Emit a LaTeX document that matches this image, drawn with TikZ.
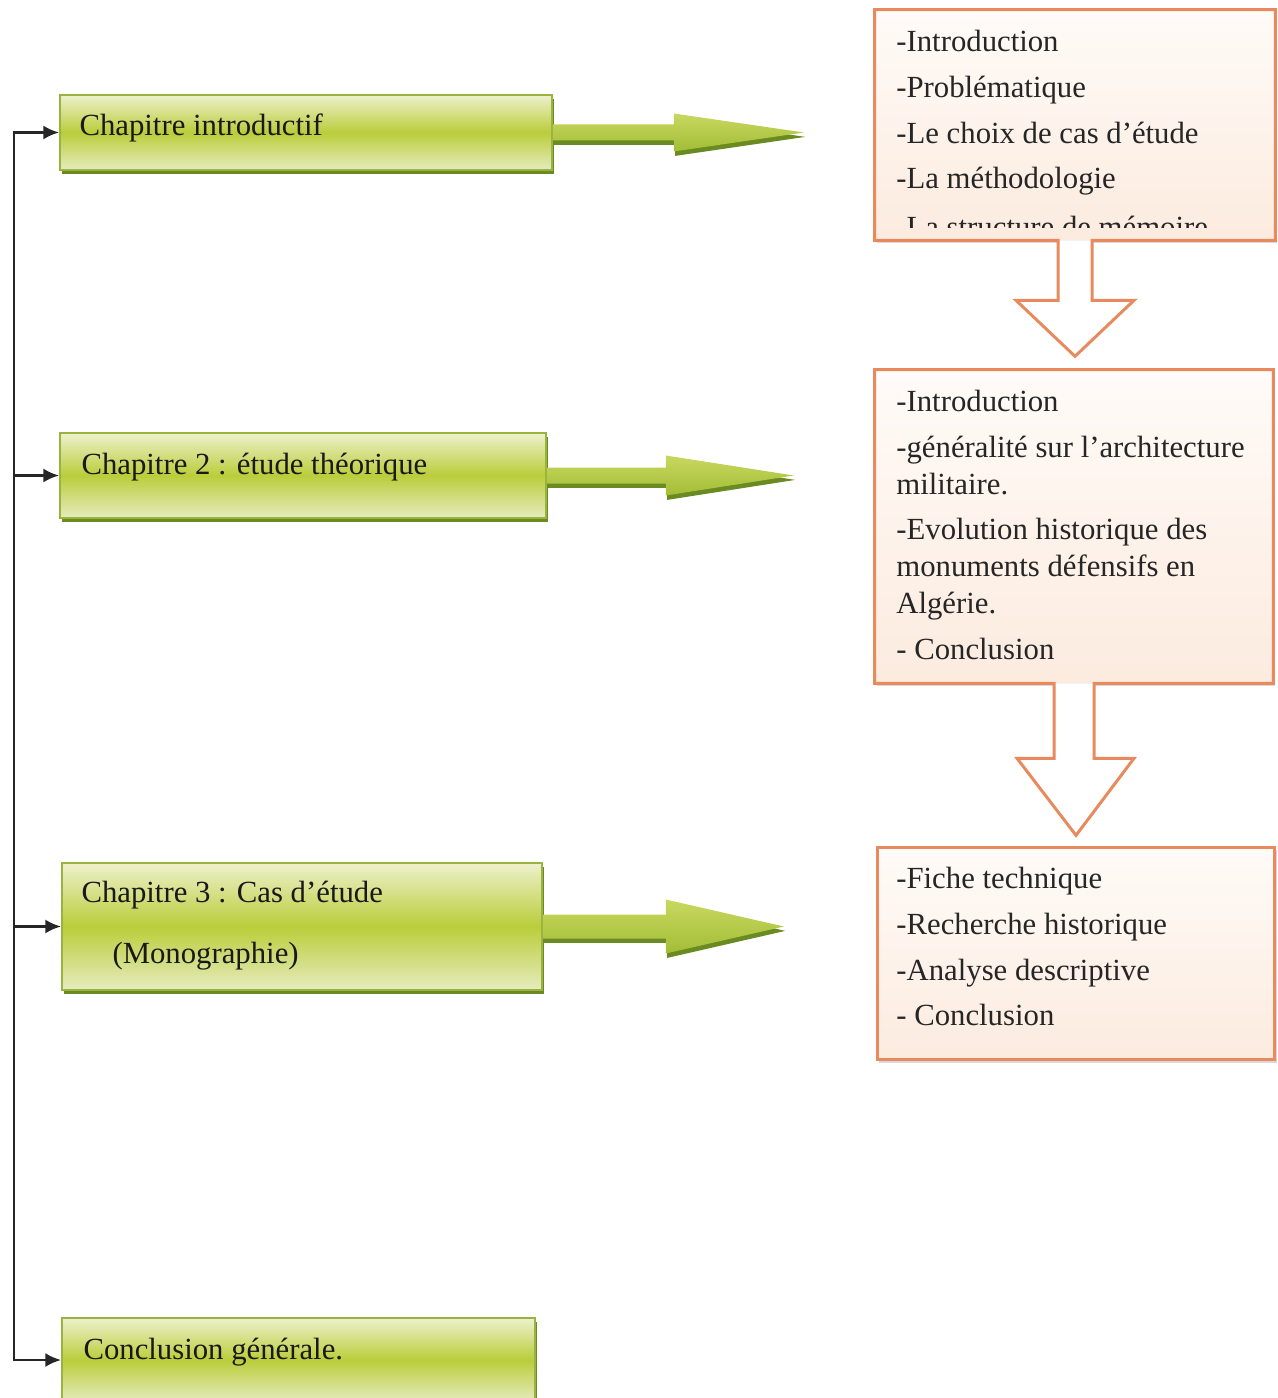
\documentclass[tikz,border=0pt]{standalone}
\usepackage{fontspec}
\setmainfont{Liberation Serif}
\usetikzlibrary{arrows.meta,shadows,positioning}

\definecolor{gtop}{HTML}{EDF1CC}
\definecolor{gmid}{HTML}{BACD3A}
\definecolor{gbot}{HTML}{E6ECBF}
\definecolor{gborder}{HTML}{9AB23F}
\definecolor{gshadow}{HTML}{6A8A22}
\definecolor{gatop}{HTML}{C8D860}
\definecolor{gabot}{HTML}{A3BD36}
\definecolor{oborder}{HTML}{E98A5E}
\definecolor{otop}{HTML}{FFFBF8}
\definecolor{obot}{HTML}{FCEBDF}

\begin{document}
\begin{tikzpicture}[x=0.02cm,y=-0.02cm,>={Latex[length=9pt,width=8pt]},
    font=\fontsize{17.5}{21}\selectfont,
    g node/.style={draw=gborder,line width=1pt,top color=gtop,bottom color=gbot,middle color=gmid,
      drop shadow={fill=gshadow,opacity=1,shadow xshift=1.2pt,shadow yshift=-2.5pt}},
    g text/.style={anchor=west,inner sep=0pt,align=left,text=black!90},
    g arrow/.style={top color=gatop,bottom color=gabot,
      drop shadow={fill=gshadow,opacity=1,shadow xshift=0.8pt,shadow yshift=-2.5pt}},
    o node/.style={top color=otop,bottom color=obot,
      drop shadow={fill=black,opacity=0.15,shadow xshift=1pt,shadow yshift=-1.5pt}},
    o line/.style={draw=oborder,line width=1.7pt,line join=miter},
    o text/.style={anchor=north west,inner sep=0pt,align=left,text=black!85},
    spine/.style={line width=1.6pt,black!85}]

    \clip (0,0) rectangle (1277,1398);

    % left column
    \node[g node,minimum width=9.84cm,minimum height=1.5cm] (g1) at (306,132.5) {};
    \node[g node,minimum width=9.72cm,minimum height=1.7cm] (g2) at (303,475.5) {};
    \node[g node,minimum width=9.6cm,minimum height=2.54cm] (g3) at (302,926.5) {};
    \node[g node,minimum width=9.46cm,minimum height=1.68cm] (g4) at (298.5,1360) {};

    \node[g text] (l1) at ([xshift=0.4cm,yshift=0.09cm]g1.west) {Chapitre introductif};
    \node[g text] (l2) at ([xshift=0.44cm,yshift=0.17cm]g2.west) {Chapitre 2 : étude théorique};
    \node[g text] (l3) at ([xshift=0.4cm,yshift=0.02cm]g3.west)
        {Chapitre 3 : Cas d’étude\\[14pt]\hspace*{0.62cm}(Monographie)};
    \node[g text] (l4) at ([xshift=0.44cm,yshift=0.16cm]g4.west) {Conclusion générale.};

    \coordinate (s) at (14,0);
    \draw[spine,<->] (g1.west) -- (g1.west -| s) -- (g4.west -| s) -- (g4.west);
    \draw[spine,->] (g2.west -| s) -- (g2.west);
    \draw[spine,->] (g3.west -| s) -- (g3.west);

    % block arrows
    \path[g arrow] (g1.east) ++(0,-8) -- ++(121,0) -- ++(0,-11) -- ++(130,19) -- ++(-130,19)
        -- ++(0,-11) -- ++(-121,0) -- cycle;
    \path[g arrow] (g2.east) ++(0,-8) -- ++(119,0) -- ++(0,-12) -- ++(128,20) -- ++(-128,20)
        -- ++(0,-12) -- ++(-119,0) -- cycle;
    \path[g arrow] (g3.east) ++(0,-12) -- ++(123,0) -- ++(0,-15) -- ++(118,27) -- ++(-118,27)
        -- ++(0,-15) -- ++(-123,0) -- cycle;

    % right column
    \node[o node,minimum width=8cm,minimum height=4.6cm] (o1) at (1075,125) {};
    \node[o node,minimum width=7.96cm,minimum height=6.26cm] (o2) at (1074,526.5) {};
    \node[o node,draw=oborder,line width=1.7pt,minimum width=7.96cm,minimum height=4.26cm] (o3) at (1076,953.5) {};

    \fill[white] (o1.south) ++(-17,0) -- ++(0,60) -- ++(-42,0) -- ++(59,56) -- ++(59,-56)
        -- ++(-42,0) -- ++(0,-60) -- cycle;
    \draw[o line] (o1.south) ++(-17,0) -- ++(0,60) -- ++(-42,0) -- ++(59,56) -- ++(59,-56)
        -- ++(-42,0) -- ++(0,-60) -- (o1.south east) -- (o1.north east) -- (o1.north west)
        -- (o1.south west) -- cycle;

    \fill[white] (o2.south) ++(-20,0) -- ++(0,75) -- ++(-37,0) -- ++(59,77) -- ++(58,-77)
        -- ++(-40,0) -- ++(0,-75) -- cycle;
    \draw[o line] (o2.south) ++(-20,0) -- ++(0,75) -- ++(-37,0) -- ++(59,77) -- ++(58,-77)
        -- ++(-40,0) -- ++(0,-75) -- (o2.south east) -- (o2.north east) -- (o2.north west)
        -- (o2.south west) -- cycle;

    \begin{scope}
    \clip (o1.north west) rectangle ([yshift=0.25cm]o1.south east);
    \node[o text] (t1) at (896,30) {-Introduction\\[5pt]-Problématique\\[5pt]-Le choix de cas d’étude\\[5pt]
        -La méthodologie\\[7pt]-La structure de mémoire};
    \end{scope}
    \node[o text] (t2) at (896,390) {-Introduction\\[5pt]-généralité sur l’architecture\\militaire.\\[5pt]
        -Evolution historique des\\monuments défensifs en\\Algérie.\\[5pt]- Conclusion};
    \node[o text] (t3) at (896,867) {-Fiche technique\\[5pt]-Recherche historique\\[5pt]-Analyse descriptive\\[5pt]
        - Conclusion};

\end{tikzpicture}
\end{document}
